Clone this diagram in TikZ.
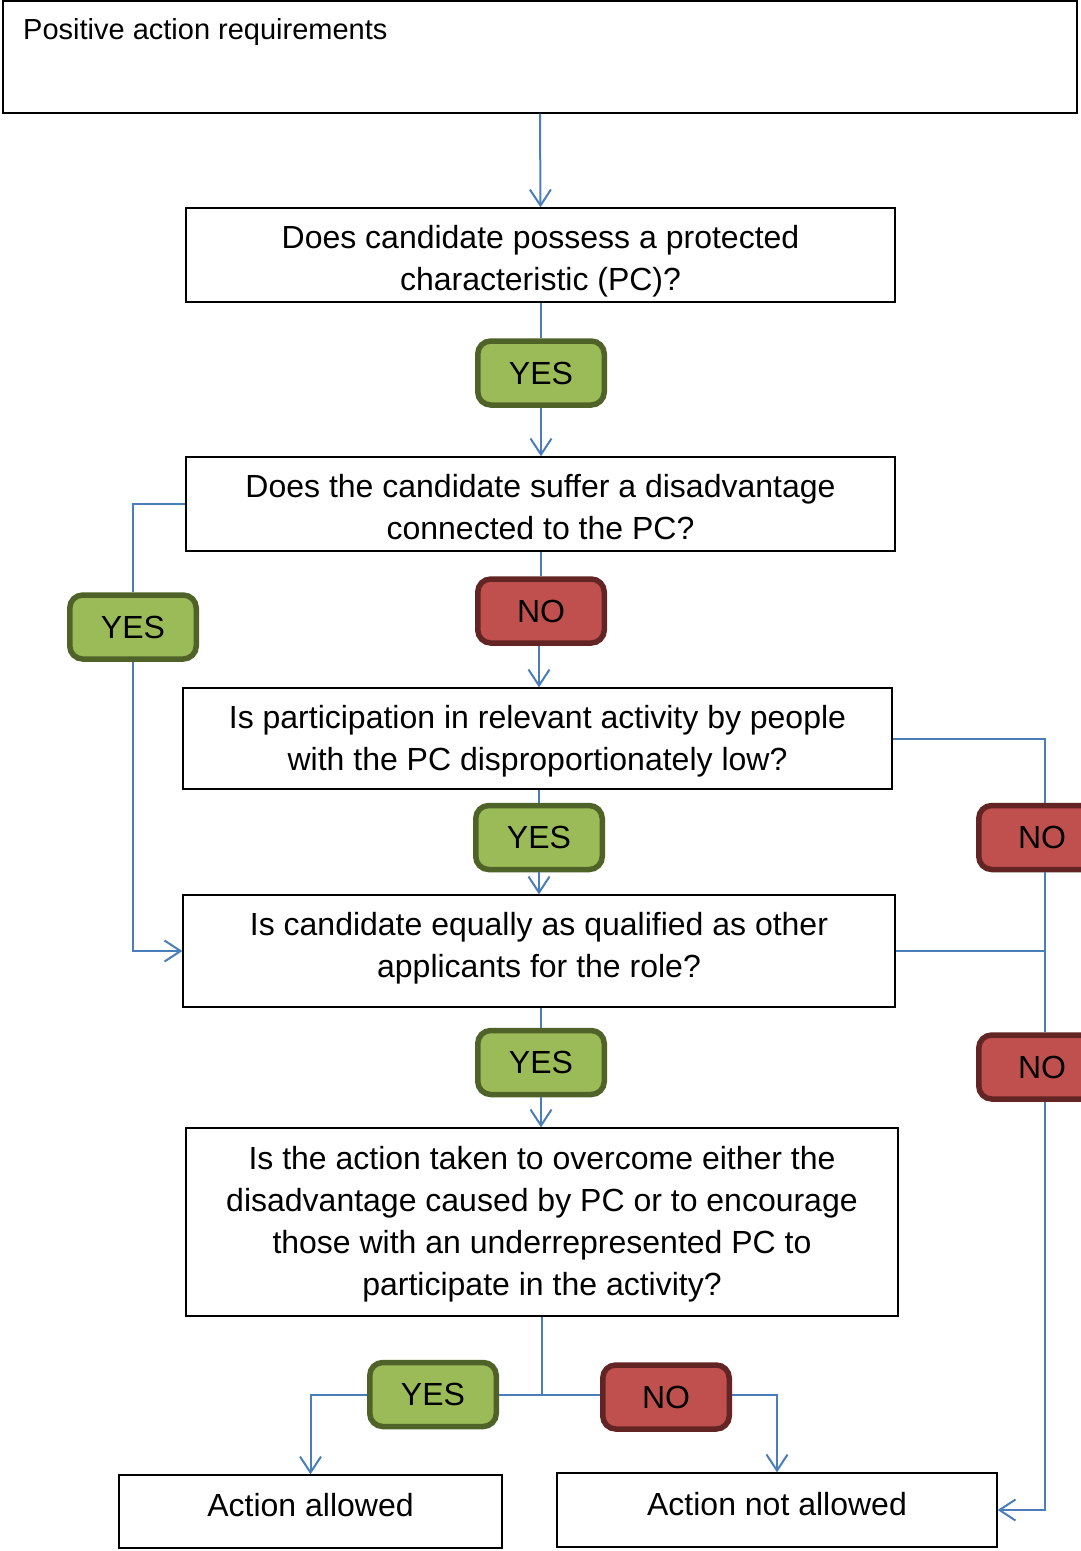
\documentclass[tikz,border=0pt]{standalone}
\usepackage{fontspec}
\setmainfont{Liberation Sans}
\usetikzlibrary{arrows.meta}
\definecolor{linkblue}{HTML}{4A7EBB}
\definecolor{yesfill}{HTML}{9BBB59}
\definecolor{yesdraw}{HTML}{4F6228}
\definecolor{nofill}{HTML}{C0504D}
\definecolor{nodraw}{HTML}{632523}
\tikzset{
  qbox/.style={draw=black, line width=1.3pt, inner sep=0pt},
  qtext/.style={inner sep=0pt, align=center, font=\fontsize{32}{42}\selectfont},
  pill/.style={line width=5.5pt, rounded corners=13pt, inner sep=0pt,
    minimum width=126.5pt, minimum height=64pt, font=\fontsize{32}{38}\selectfont},
  yespill/.style={pill, fill=yesfill, draw=yesdraw},
  nopill/.style={pill, fill=nofill, draw=nodraw},
  conn/.style={draw=linkblue, line width=2pt},
  arr/.style={conn, -{Straight Barb[length=16pt,width=21pt,line width=2pt]}},
}
\begin{document}
\begin{tikzpicture}[x=1pt,y=-1pt]
\useasboundingbox (0,0) rectangle (1081,1551);
\clip (0,0) rectangle (1081,1551);
\fill[white] (0,0) rectangle (1081,1551);
% top box
\node[qbox, minimum width=1074pt, minimum height=112pt] (top) at (540,57) {};
\node[anchor=base west, inner sep=0pt, font=\fontsize{29}{35}\selectfont] (toptxt) at (23,39) {Positive action requirements};
% question boxes
\node[qbox, minimum width=709pt, minimum height=94pt] (b1) at (540.5,255) {};
\node[qtext] (t1) at (540.5,261) {Does candidate possess a protected\\characteristic (PC)?};
\node[qbox, minimum width=709pt, minimum height=94pt] (b2) at (540.5,504) {};
\node[qtext] (t2) at (540.5,507) {Does the candidate suffer a disadvantage\\connected to the PC?};
\node[qbox, minimum width=709pt, minimum height=101pt] (b3) at (537.5,738.5) {};
\node[qtext] (t3) at (537.5,741.5) {Is participation in relevant activity by people\\with the PC disproportionately low?};
\node[qbox, minimum width=712pt, minimum height=112pt] (b4) at (539,951) {};
\node[qtext] (t4) at (539,948) {Is candidate equally as qualified as other\\applicants for the role?};
\node[qbox, minimum width=712pt, minimum height=188pt] (b5) at (542,1222) {};
\node[qtext] (t5) at (542,1224) {Is the action taken to overcome either the\\disadvantage caused by PC or to encourage\\those with an underrepresented PC to\\participate in the activity?};
\node[qbox, minimum width=383pt, minimum height=73pt] (b6) at (310.5,1511.5) {};
\node[qtext] (t6) at (310.5,1505.5) {Action allowed};
\node[qbox, minimum width=440pt, minimum height=74pt] (b7) at (777,1510) {};
\node[qtext] (t7) at (777,1504) {Action not allowed};
% pills
\node[yespill] (y1) at (541,373) {YES};
\node[nopill] (n1) at (541,611) {NO};
\node[yespill] (yl) at (133,627) {YES};
\node[yespill] (y2) at (539,837.5) {YES};
\node[nopill] (nr1) at (1042,837.5) {NO};
\node[yespill] (y3) at (541,1062.5) {YES};
\node[nopill] (nr2) at (1042,1067) {NO};
\node[yespill] (y4) at (433,1394.5) {YES};
\node[nopill] (n4) at (666,1397) {NO};
\coordinate (rx) at (1045,0);
\coordinate (j) at (542,1395);
% connectors
\draw[arr] (top.south) -- (b1.north);
\draw[conn] (y1.north |- b1.south) -- (y1.north);
\draw[arr] (y1.south) -- (y1.south |- b2.north);
\draw[conn] (n1.north |- b2.south) -- (n1.north);
\draw[arr] ([xshift=-2pt]n1.south) -- ([xshift=-2pt]n1.south |- b3.north);
\draw[conn] (b2.west) -| (yl.north);
\draw[arr] (yl.south) |- (b4.west);
\draw[conn] (y2.north |- b3.south) -- (y2.north);
\draw[arr] (y2.south) -- (y2.south |- b4.north);
\draw[conn] (b3.east) -| (nr1.north -| rx);
\draw[conn] (nr1.south -| rx) -- (nr2.north -| rx);
\draw[conn] (b4.east) -- (b4.east -| rx);
\draw[arr] (nr2.south -| rx) |- (b7.east);
\draw[conn] (y3.north |- b4.south) -- (y3.north);
\draw[arr] (y3.south) -- (y3.south |- b5.north);
\draw[conn] (b5.south) -- (j);
\draw[conn] (y4.east |- j) -- (j) -- (n4.west |- j);
\draw[arr] (y4.west |- j) -| (b6.north);
\draw[arr] (n4.east |- j) -| (b7.north);
\end{tikzpicture}
\end{document}
